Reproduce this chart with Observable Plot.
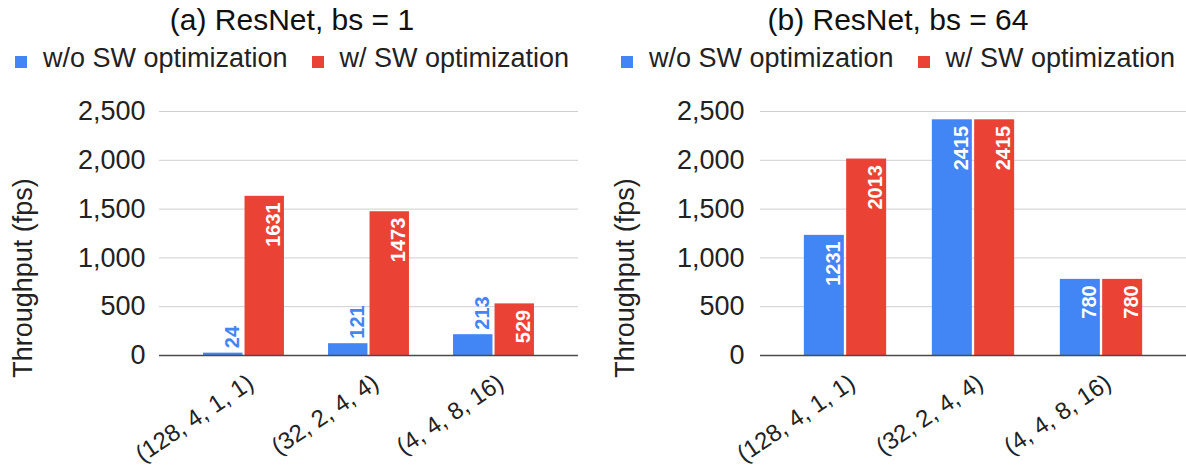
<!DOCTYPE html>
<html>
<head>
<meta charset="utf-8">
<script src="https://cdn.jsdelivr.net/npm/d3@7"></script>
<script src="https://cdn.jsdelivr.net/npm/@observablehq/plot@0.6"></script>
<style>
  body { margin: 0; background: #fff; font-family: "Liberation Sans", Arial, sans-serif; color: #222; }
  #fig { display: flex; width: 1186px; height: 468px; overflow: hidden; }
  .panel { position: relative; flex: none; }
  .title { height: 40px; line-height: 40px; font-size: 30px; text-align: center; white-space: nowrap; color: #111; }
  .legend { height: 36px; line-height: 36px; font-size: 27px; text-align: center; white-space: nowrap; }
  .item { display: inline-block; }
  .item + .item { margin-left: 24px; }
  .sw { display: inline-block; width: 12px; height: 12px; margin-right: 16px; vertical-align: baseline; position: relative; top: 1px; }
  .panel svg { display: block; }
</style>
</head>
<body>
<div id="fig"></div>
<script>
// Network configurations on the x axis
const configs = ["(128, 4, 1, 1)", "(32, 2, 4, 4)", "(4, 4, 8, 16)"];
const seriesNames = ["w/o SW optimization", "w/ SW optimization"];
const seriesColors = ["#4285F4", "#EA4335"];

// Throughput (fps), ResNet batch size 1
const bs1Without = [24, 121, 213];
const bs1With = [1631, 1473, 529];

// Throughput (fps), ResNet batch size 64
const bs64Without = [1231, 2415, 780];
const bs64With = [2013, 2415, 780];

const yTicks = [0, 500, 1000, 1500, 2000, 2500];
const yMax = 2500;

const FONT = '"Liberation Sans", Arial, sans-serif';
const SVG_H = 392, M_TOP = 35, M_BOTTOM = 113;

function legend(pad) {
  const el = document.createElement("div");
  el.className = "legend";
  el.style.cssText = pad;
  seriesNames.forEach((name, i) => {
    const item = document.createElement("span");
    item.className = "item";
    const sw = document.createElement("span");
    sw.className = "sw";
    sw.style.background = seriesColors[i];
    item.appendChild(sw);
    item.appendChild(document.createTextNode(name));
    el.appendChild(item);
  });
  return el;
}

function panel({title, without, withOpt, width, marginLeft, marginRight, paddingOuter, barWidth, tickPadding, pad, axisLabelDx}) {
  const rows = configs.flatMap((c, i) => [
    {config: c, series: 0, value: without[i]},
    {config: c, series: 1, value: withOpt[i]}
  ]);
  const step = (width - marginLeft - marginRight) / (configs.length + 2 * paddingOuter);
  const gap = 1;
  const plotH = SVG_H - M_TOP - M_BOTTOM;
  // a value label goes inside its bar when the bar is tall enough to hold it
  const fits = d => d.value / yMax * plotH > String(d.value).length * 11 + 14;

  const marks = [Plot.ruleY(yTicks.filter(d => d > 0), {stroke: "#cfcfcf", strokeWidth: 1})];
  [0, 1].forEach(s => {
    const data = rows.filter(d => d.series === s);
    marks.push(Plot.barY(data, {
      x: "config", y: "value", fill: seriesColors[s],
      insetLeft: s ? step / 2 + gap : step / 2 - gap - barWidth,
      insetRight: s ? step / 2 - gap - barWidth : step / 2 + gap
    }));
  });
  marks.push(Plot.ruleY([0], {stroke: "#4a4a4a", strokeWidth: 1.5}));
  [0, 1].forEach(s => {
    const data = rows.filter(d => d.series === s);
    const dx = (s ? 1 : -1) * (gap + barWidth / 2) + 9;
    const common = {x: "config", y: "value", text: d => String(d.value), rotate: -90,
      lineAnchor: "middle", dx, fontWeight: "bold", fontSize: 20};
    marks.push(Plot.text(data.filter(fits), {...common, textAnchor: "end", dy: 6, fill: "white"}));
    marks.push(Plot.text(data.filter(d => !fits(d)), {...common, textAnchor: "start", dy: -5, fill: seriesColors[s]}));
  });
  marks.push(Plot.text(configs, {
    x: d => d, text: d => d, frameAnchor: "bottom", rotate: -34,
    textAnchor: "end", lineAnchor: "middle", dx: 7, dy: 25, fontSize: 24
  }));
  marks.push(Plot.text(["Throughput (fps)"], {
    text: d => d, frameAnchor: "left", rotate: -90, textAnchor: "middle", lineAnchor: "middle",
    dx: axisLabelDx, dy: 44.5, fontSize: 27
  }));

  const chart = Plot.plot({
    width, height: SVG_H, marginLeft, marginRight, marginTop: M_TOP, marginBottom: M_BOTTOM,
    style: {fontFamily: FONT, fontSize: "27px", color: "#222", background: "transparent", overflow: "visible"},
    x: {type: "band", domain: configs, paddingInner: 0, paddingOuter, align: 0.5, axis: null},
    y: {domain: [0, yMax], nice: false, ticks: yTicks, tickFormat: d3.format(","),
        tickSize: 0, tickPadding, label: null},
    marks
  });

  const div = document.createElement("div");
  div.className = "panel";
  div.style.width = width + "px";
  const t = document.createElement("div");
  t.className = "title";
  t.style.cssText = pad;
  t.textContent = title;
  div.appendChild(t);
  div.appendChild(legend(pad));
  div.appendChild(chart);
  return div;
}

const fig = document.getElementById("fig");
fig.appendChild(panel({
  title: "(a) ResNet, bs = 1", without: bs1Without, withOpt: bs1With,
  width: 600, marginLeft: 159, marginRight: 22, paddingOuter: 0.175, barWidth: 39.5,
  tickPadding: 14, pad: "padding-right:16px", axisLabelDx: -136.5
}));
fig.appendChild(panel({
  title: "(b) ResNet, bs = 64", without: bs64Without, withOpt: bs64With,
  width: 586, marginLeft: 160, marginRight: 0, paddingOuter: 0.16, barWidth: 40.3,
  tickPadding: 16, pad: "padding-left:10px", axisLabelDx: -135
}));
</script>
</body>
</html>
